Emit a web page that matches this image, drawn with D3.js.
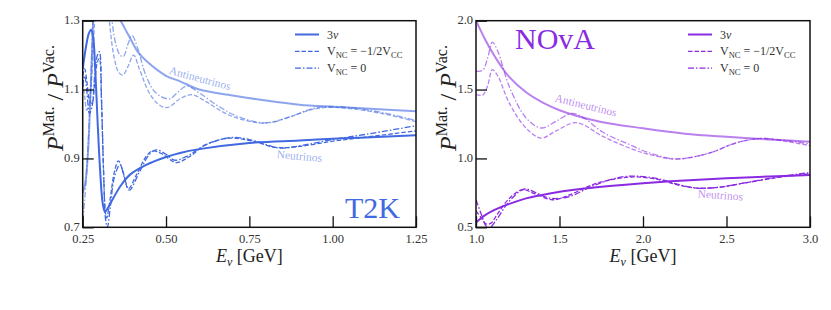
<!DOCTYPE html>
<html>
<head>
<meta charset="utf-8">
<script src="https://cdn.jsdelivr.net/npm/d3@7"></script>
<style>
body { margin: 0; background: #fff; }
svg text { font-family: "Liberation Serif", "DejaVu Serif", serif; }
</style>
</head>
<body>
<script>
// T2K curves, [E (GeV), P_mat / P_vac]
var t2kNu3 = [[0.25,1.16],[0.26,1.225],[0.268,1.262],[0.275,1.274],[0.281,1.255],[0.288,1.15],[0.295,1.0],[0.302,0.87],[0.31,0.77],[0.317,0.745],[0.325,0.755],[0.342,0.785],[0.365,0.822],[0.392,0.853],[0.442,0.882],[0.50,0.904],[0.542,0.916],[0.60,0.927],[0.75,0.945],[0.90,0.952],[1.00,0.957],[1.10,0.961],[1.25,0.967]];
var t2kNuHalf = [[0.25,1.14],[0.256,1.16],[0.263,1.12],[0.27,1.07],[0.278,1.06],[0.286,1.12],[0.294,1.18],[0.30,1.19],[0.306,1.08],[0.312,0.88],[0.318,0.745],[0.322,0.727],[0.332,0.78],[0.345,0.86],[0.357,0.893],[0.37,0.865],[0.387,0.812],[0.41,0.85],[0.44,0.905],[0.46,0.922],[0.49,0.912],[0.53,0.888],[0.57,0.905],[0.62,0.94],[0.69,0.959],[0.76,0.95],[0.83,0.932],[0.90,0.935],[1.00,0.95],[1.10,0.962],[1.25,0.98]];
var t2kNu0 = [[0.25,1.11],[0.256,1.14],[0.263,1.09],[0.27,1.03],[0.278,1.05],[0.286,1.14],[0.294,1.20],[0.30,1.21],[0.307,1.05],[0.313,0.85],[0.319,0.72],[0.324,0.70],[0.333,0.76],[0.345,0.845],[0.362,0.882],[0.375,0.845],[0.39,0.808],[0.42,0.86],[0.45,0.912],[0.47,0.925],[0.50,0.912],[0.525,0.895],[0.56,0.905],[0.62,0.94],[0.70,0.961],[0.77,0.95],[0.84,0.93],[0.92,0.94],[1.00,0.955],[1.10,0.97],[1.25,0.995]];
var t2kAnu3 = [[0.25,0.80],[0.258,0.83],[0.266,0.92],[0.274,1.10],[0.282,1.32],[0.29,1.5],[0.31,1.7],[0.33,1.55],[0.345,1.40],[0.36,1.31],[0.375,1.28],[0.392,1.25],[0.415,1.21],[0.442,1.182],[0.50,1.14],[0.542,1.124],[0.60,1.10],[0.70,1.083],[0.80,1.068],[0.90,1.056],[1.00,1.050],[1.10,1.045],[1.25,1.037]];
var t2kAnuHalf = [[0.25,1.12],[0.256,1.08],[0.262,1.04],[0.27,1.06],[0.278,1.15],[0.286,1.3],[0.295,1.45],[0.31,1.55],[0.322,1.42],[0.33,1.30],[0.345,1.19],[0.358,1.15],[0.37,1.142],[0.385,1.165],[0.403,1.20],[0.42,1.16],[0.45,1.09],[0.48,1.055],[0.505,1.048],[0.54,1.072],[0.577,1.085],[0.62,1.065],[0.68,1.03],[0.74,1.01],[0.80,1.003],[0.87,1.02],[0.93,1.04],[0.98,1.048],[1.05,1.045],[1.15,1.03],[1.25,1.007]];
var t2kAnu0 = [[0.25,0.72],[0.256,0.78],[0.263,0.88],[0.27,1.02],[0.277,1.2],[0.284,1.4],[0.295,1.6],[0.315,1.65],[0.33,1.45],[0.338,1.30],[0.35,1.23],[0.362,1.20],[0.372,1.196],[0.385,1.23],[0.398,1.257],[0.415,1.22],[0.44,1.14],[0.47,1.09],[0.51,1.073],[0.535,1.092],[0.562,1.11],[0.60,1.09],[0.66,1.05],[0.72,1.02],[0.80,1.003],[0.87,1.02],[0.93,1.042],[0.97,1.05],[1.05,1.048],[1.15,1.033],[1.25,1.01]];

// NOvA curves
var novaNu3 = [[1.0,0.535],[1.05,0.585],[1.108,0.625],[1.2,0.67],[1.3,0.71],[1.45,0.748],[1.6,0.775],[1.8,0.80],[2.0,0.82],[2.25,0.84],[2.5,0.856],[2.75,0.868],[3.0,0.88]];
var novaNuHalf = [[1.0,0.62],[1.03,0.57],[1.06,0.525],[1.09,0.53],[1.13,0.60],[1.2,0.71],[1.277,0.773],[1.35,0.745],[1.457,0.70],[1.55,0.73],[1.7,0.81],[1.85,0.855],[1.96,0.866],[2.1,0.845],[2.2,0.81],[2.32,0.785],[2.45,0.79],[2.6,0.82],[2.8,0.86],[3.0,0.89]];
var novaNu0 = [[1.0,0.70],[1.03,0.60],[1.06,0.51],[1.08,0.495],[1.12,0.55],[1.2,0.69],[1.29,0.778],[1.36,0.75],[1.44,0.712],[1.55,0.72],[1.7,0.80],[1.85,0.86],[1.95,0.872],[2.1,0.85],[2.2,0.815],[2.32,0.785],[2.45,0.79],[2.6,0.82],[2.8,0.865],[3.0,0.897]];
var novaAnu3 = [[1.0,2.0],[1.05,1.875],[1.1,1.765],[1.15,1.67],[1.2,1.59],[1.3,1.48],[1.4,1.405],[1.5,1.35],[1.6,1.31],[1.75,1.265],[2.0,1.219],[2.25,1.18],[2.5,1.157],[2.75,1.138],[3.0,1.122]];
var novaAnuHalf = [[1.0,1.463],[1.04,1.46],[1.07,1.53],[1.098,1.644],[1.13,1.60],[1.2,1.40],[1.3,1.22],[1.39,1.148],[1.48,1.20],[1.6,1.26],[1.76,1.16],[1.92,1.075],[2.05,1.025],[2.2,0.995],[2.4,1.04],[2.55,1.11],[2.7,1.145],[2.85,1.125],[3.0,1.093]];
var novaAnu0 = [[1.0,1.633],[1.04,1.64],[1.07,1.73],[1.098,1.845],[1.13,1.78],[1.2,1.52],[1.3,1.294],[1.39,1.221],[1.48,1.27],[1.573,1.327],[1.65,1.29],[1.76,1.19],[1.92,1.10],[2.05,1.035],[2.2,0.997],[2.4,1.04],[2.55,1.11],[2.7,1.145],[2.85,1.13],[3.0,1.105]];

var t2kXTicks = [0.25, 0.50, 0.75, 1.00, 1.25];
var t2kYTicks = [0.7, 0.9, 1.1, 1.3];
var novaXTicks = [1.0, 1.5, 2.0, 2.5, 3.0];
var novaYTicks = [0.5, 1.0, 1.5, 2.0];

var svg = d3.select("body").append("svg")
    .attr("width", 831)
    .attr("height", 310);

var dashes = { solid: null, dashed: "4.5,2", dashdot: "6,2,1.5,2" };
var serif = '"Liberation Serif", "DejaVu Serif", serif';

function drawPanel(p) {
    var x = d3.scaleLinear().domain(p.xDomain).range([p.left, p.right]);
    var y = d3.scaleLinear().domain(p.yDomain).range([p.bottom, p.top]);
    var g = svg.append("g").attr("font-family", serif);

    g.append("clipPath").attr("id", p.id + "clip")
        .append("rect")
        .attr("x", p.left).attr("y", p.top)
        .attr("width", p.right - p.left).attr("height", p.bottom - p.top);

    var line = d3.line()
        .x(function(d) { return x(d[0]); })
        .y(function(d) { return y(d[1]); })
        .curve(d3.curveCatmullRom.alpha(0.5));

    var curves = g.append("g").attr("clip-path", "url(#" + p.id + "clip)");
    p.series.forEach(function(s) {
        curves.append("path")
            .attr("d", line(s.data))
            .attr("fill", "none")
            .attr("stroke", p.color)
            .attr("stroke-opacity", s.light ? 0.6 : 1)
            .attr("stroke-width", s.style == "solid" ? 2 : 1.3)
            .attr("stroke-dasharray", dashes[s.style]);
    });

    // axes, ticks pointing in
    var xAxis = d3.axisBottom(x).tickValues(p.xTicks).tickSize(-11).tickPadding(14)
        .tickFormat(d3.format(p.xFmt));
    var yAxis = d3.axisLeft(y).tickValues(p.yTicks).tickSize(-11).tickPadding(14)
        .tickFormat(d3.format(".1f"));
    var gx = g.append("g").attr("transform", "translate(0," + p.bottom + ")").call(xAxis);
    var gy = g.append("g").attr("transform", "translate(" + p.left + ",0)").call(yAxis);
    [gx, gy].forEach(function(a) {
        a.attr("font-family", serif).attr("font-size", 12.5);
        a.select(".domain").remove();
        a.selectAll("line").attr("stroke", "#111").attr("stroke-width", 1.3);
        a.selectAll("text").attr("fill", "#333");
    });
    gx.selectAll("text").attr("dy", "0.71em").attr("y", 7);
    gy.selectAll("text").attr("x", -3).attr("dy", "0.25em");

    g.append("rect")
        .attr("x", p.left).attr("y", p.top)
        .attr("width", p.right - p.left).attr("height", p.bottom - p.top)
        .attr("fill", "none").attr("stroke", "#111").attr("stroke-width", 1.5);

    // axis labels
    var xl = g.append("text")
        .attr("x", (p.left + p.right) / 2).attr("y", 262)
        .attr("text-anchor", "middle").attr("font-size", 18).attr("fill", "#222");
    xl.append("tspan").attr("font-style", "italic").text("E");
    xl.append("tspan").attr("font-style", "italic").attr("font-size", 12).attr("dy", 4).text("ν");
    xl.append("tspan").attr("dy", -4).text(" [GeV]");

    var yl = g.append("text")
        .attr("transform", "translate(" + (p.left - 20) + ",98) rotate(-90)")
        .attr("text-anchor", "middle").attr("font-size", 24).attr("fill", "#222");
    yl.append("tspan").attr("font-style", "italic").text("P");
    yl.append("tspan").attr("font-size", 16).attr("dy", -9).text("Mat.");
    yl.append("tspan").attr("dy", 9).text(" / ");
    yl.append("tspan").attr("font-style", "italic").text("P");
    yl.append("tspan").attr("font-size", 16).attr("dy", -9).text("Vac.");

    // legend
    var lg = g.append("g");
    var rows = [
        { style: "solid", label: "3nu" },
        { style: "dashed", label: "half" },
        { style: "dashdot", label: "zero" }
    ];
    rows.forEach(function(r, i) {
        var yy = 34.5 + i * 16.8;
        lg.append("line")
            .attr("x1", p.legX).attr("x2", p.legX + 24)
            .attr("y1", yy).attr("y2", yy)
            .attr("stroke", p.color)
            .attr("stroke-width", r.style == "solid" ? 2 : 1.3)
            .attr("stroke-dasharray", dashes[r.style]);
        var t = lg.append("text").attr("x", p.legX + 32).attr("y", yy + 4)
            .attr("font-size", 12).attr("fill", "#333");
        if (r.label == "3nu") {
            t.append("tspan").text("3");
            t.append("tspan").attr("font-style", "italic").text("ν");
        } else {
            t.append("tspan").text("V");
            t.append("tspan").attr("font-size", 8.5).attr("dy", 2.5).text("NC");
            if (r.label == "half") {
                t.append("tspan").attr("dy", -2.5).text(" = −1/2V");
                t.append("tspan").attr("font-size", 8.5).attr("dy", 2.5).text("CC");
            } else {
                t.append("tspan").attr("dy", -2.5).text(" = 0");
            }
        }
    });

    // curve labels
    p.notes.forEach(function(n) {
        g.append("text")
            .attr("transform", "translate(" + n.x + "," + n.y + ") rotate(" + n.a + ")")
            .attr("text-anchor", "middle")
            .attr("font-size", 11.5)
            .attr("fill", p.color).attr("fill-opacity", 0.55)
            .text(n.t);
    });

    g.append("text")
        .attr("x", p.nameX).attr("y", p.nameY)
        .attr("text-anchor", p.nameAnchor)
        .attr("font-size", 30)
        .attr("fill", p.color)
        .text(p.name);
}

drawPanel({
    id: "t2k", left: 82.7, right: 416, top: 20.7, bottom: 227.3,
    xDomain: [0.25, 1.25], yDomain: [0.7, 1.3],
    xTicks: t2kXTicks, yTicks: t2kYTicks, xFmt: ".2f",
    color: "#4169e1",
    series: [
        { data: t2kAnu3, style: "solid", light: true },
        { data: t2kAnuHalf, style: "dashed", light: true },
        { data: t2kAnu0, style: "dashdot", light: true },
        { data: t2kNu3, style: "solid" },
        { data: t2kNuHalf, style: "dashed" },
        { data: t2kNu0, style: "dashdot" }
    ],
    legX: 295,
    notes: [
        { t: "Antineutrinos", x: 199, y: 82, a: 15 },
        { t: "Neutrinos", x: 299, y: 160, a: 5 }
    ],
    name: "T2K", nameX: 400, nameY: 218, nameAnchor: "end"
});

drawPanel({
    id: "nova", left: 476, right: 810, top: 20.7, bottom: 227.3,
    xDomain: [1.0, 3.0], yDomain: [0.5, 2.0],
    xTicks: novaXTicks, yTicks: novaYTicks, xFmt: ".1f",
    color: "#8a2be2",
    series: [
        { data: novaAnu3, style: "solid", light: true },
        { data: novaAnuHalf, style: "dashed", light: true },
        { data: novaAnu0, style: "dashdot", light: true },
        { data: novaNu3, style: "solid" },
        { data: novaNuHalf, style: "dashed" },
        { data: novaNu0, style: "dashdot" }
    ],
    legX: 688,
    notes: [
        { t: "Antineutrinos", x: 585, y: 109, a: 14 },
        { t: "Neutrinos", x: 720, y: 199, a: 4 }
    ],
    name: "NOvA", nameX: 515, nameY: 49, nameAnchor: "start"
});
</script>
</body>
</html>
